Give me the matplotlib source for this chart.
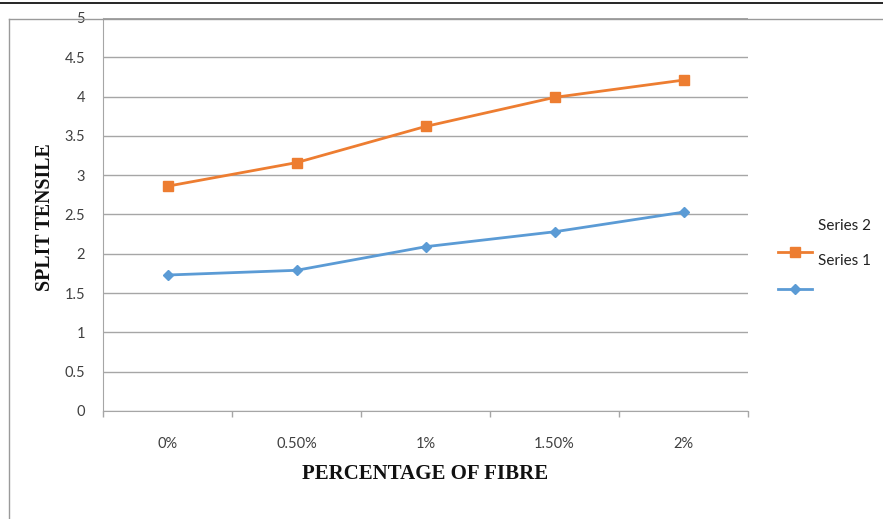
import matplotlib
matplotlib.use("Agg")
import matplotlib.pyplot as plt
from matplotlib.lines import Line2D
import numpy as np

categories = ["0%", "0.50%", "1%", "1.50%", "2%"]
series_orange = [2.86, 3.16, 3.62, 3.99, 4.21]
series_blue = [1.73, 1.79, 2.09, 2.28, 2.53]
y_ticks = [0, 0.5, 1, 1.5, 2, 2.5, 3, 3.5, 4, 4.5, 5]
y_tick_labels = ["0", "0.5", "1", "1.5", "2", "2.5", "3", "3.5", "4", "4.5", "5"]

ORANGE = "#ED7D31"
BLUE = "#5B9BD5"
GRID = "#A6A6A6"
LABEL = "#404040"
TICKFONT = "Lato"
TICKSIZE = 10.5

W, H = 883, 519
fig = plt.figure(figsize=(W / 100, H / 100), dpi=100)
fig.patch.set_facecolor("white")

# outer frame lines
fig.add_artist(Line2D([0, 1], [1 - 3 / H, 1 - 3 / H], transform=fig.transFigure,
                      color="black", lw=1.2))
fig.add_artist(Line2D([9 / W, 9 / W], [0, 1 - 19 / H], transform=fig.transFigure,
                      color="#9a9a9a", lw=1.0))
fig.add_artist(Line2D([9 / W, 1], [1 - 19 / H, 1 - 19 / H], transform=fig.transFigure,
                      color="#9a9a9a", lw=1.0))

left, right = 103 / W, 748 / W
bottom, top = 1 - 411 / H, 1 - 18 / H
ax = fig.add_axes([left, bottom, right - left, top - bottom])

x = np.arange(len(categories)) + 0.5
ax.set_xlim(0, len(categories))
ax.set_ylim(0, 5)

ax.set_yticks(y_ticks)
ax.set_yticklabels(y_tick_labels, fontsize=TICKSIZE, color=LABEL, family=TICKFONT)
ax.yaxis.grid(True, color=GRID, lw=1.0)
ax.set_axisbelow(True)
ax.tick_params(axis="y", length=0, pad=13)

ax.set_xticks(x)
ax.set_xticklabels(categories, fontsize=TICKSIZE, color=LABEL, family=TICKFONT)
ax.set_xticks(np.arange(len(categories) + 1), minor=True)
ax.tick_params(axis="x", which="major", length=0, pad=19)
ax.tick_params(axis="x", which="minor", length=4, color=GRID, width=1)

for s in ["top", "right"]:
    ax.spines[s].set_visible(False)
ax.spines["left"].set_color(GRID)
ax.spines["bottom"].set_color(GRID)

ax.plot(x, series_orange, color=ORANGE, lw=2, marker="s", markersize=7,
        markeredgecolor=ORANGE, zorder=3)
ax.plot(x, series_blue, color=BLUE, lw=2, marker="D", markersize=5,
        markeredgecolor=BLUE, zorder=3)

ax.set_ylabel("SPLIT TENSILE", family="Liberation Serif", fontweight="bold",
              fontsize=14.3, color="#111111")
ax.yaxis.set_label_coords(-58 / (748 - 103), (411 - 217) / (411 - 18))
ax.set_xlabel("PERCENTAGE OF FIBRE", family="Liberation Serif", fontweight="bold",
              fontsize=15, color="#111111")
ax.xaxis.set_label_coords((425 - 103) / (748 - 103), -(474 - 411) / (411 - 18))
ax.xaxis.label.set_va("center")
ax.yaxis.label.set_va("center")

# legend block
def fx(px):
    return px / W

def fy(py):
    return 1 - py / H

LEGSIZE = 11
fig.text(fx(818), fy(226), "Series 2", fontsize=LEGSIZE, color="#222222",
         family=TICKFONT, va="center", ha="left")
fig.text(fx(818), fy(261), "Series 1", fontsize=LEGSIZE, color="#222222",
         family=TICKFONT, va="center", ha="left")
fig.add_artist(Line2D([fx(778), fx(812)], [fy(252), fy(252)], transform=fig.transFigure,
                      color=ORANGE, lw=2))
fig.add_artist(Line2D([fx(795)], [fy(252)], transform=fig.transFigure,
                      color=ORANGE, marker="s", markersize=7, lw=0))
fig.add_artist(Line2D([fx(778), fx(812)], [fy(289), fy(289)], transform=fig.transFigure,
                      color=BLUE, lw=2))
fig.add_artist(Line2D([fx(795)], [fy(289)], transform=fig.transFigure,
                      color=BLUE, marker="D", markersize=5, lw=0))

fig.savefig("out.png", dpi=100, facecolor="white")
